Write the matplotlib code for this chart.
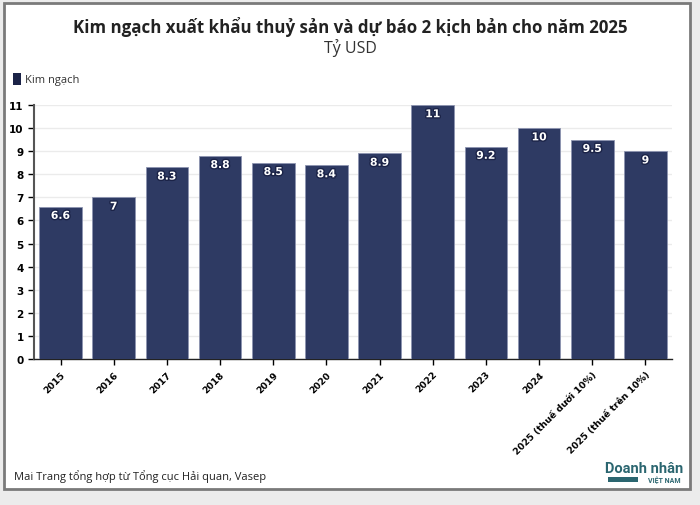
import matplotlib.pyplot as plt
import matplotlib.patheffects as pe
from matplotlib.patches import Rectangle

years = ["2015", "2016", "2017", "2018", "2019", "2020", "2021", "2022",
         "2023", "2024", "2025 (thuế dưới 10%)", "2025 (thuế trên 10%)"]
values = [6.6, 7, 8.3, 8.8, 8.5, 8.4, 8.9, 11, 9.2, 10, 9.5, 9]
labels = ["6.6", "7", "8.3", "8.8", "8.5", "8.4", "8.9", "11", "9.2", "10", "9.5", "9"]

bar_color = "#2e3a63"
W, H = 700, 506

fig = plt.figure(figsize=(7, 5.06), dpi=100, facecolor="#ececec")

# white card with grey border
fig.patches.append(Rectangle((4 / W, 1 - 490 / H), 686 / W, 486 / H,
                             transform=fig.transFigure, facecolor="white",
                             edgecolor="#7a7a7a", linewidth=2, zorder=-5))

ax = fig.add_axes([34 / W, 1 - 360 / H, 638 / W, 254 / H])
ax.set_facecolor("white")

x = range(len(years))
ax.bar(x, values, width=0.8, color=bar_color, edgecolor="#8d94b0",
       linewidth=0.6, zorder=3)

for i, (v, t) in enumerate(zip(values, labels)):
    ax.text(i, v - 0.4, t, ha="center", va="center", color="white",
            fontsize=7.8, fontweight="bold", family="DejaVu Sans", zorder=4,
            path_effects=[pe.withStroke(linewidth=2, foreground="#1b2347")])

ax.set_xlim(-0.5, len(years) - 0.5)
ax.set_ylim(0, 11)
ax.set_yticks(range(0, 12))
ax.set_xticks(list(x))
ax.set_xticklabels(years, rotation=45, ha="right", rotation_mode="anchor")
ax.tick_params(axis="y", labelsize=7.5, colors="black", length=4, width=1)
ax.tick_params(axis="x", labelsize=6.7, colors="black", length=4, width=1)
for lab in ax.get_xticklabels() + ax.get_yticklabels():
    lab.set_fontweight("bold")
ax.grid(axis="y", color="#ebebeb", linewidth=1, zorder=0)
for s in ["top", "right"]:
    ax.spines[s].set_visible(False)
ax.spines["left"].set_color("#555555")
ax.spines["left"].set_linewidth(1.5)
ax.spines["bottom"].set_color("#222222")
ax.spines["bottom"].set_linewidth(1)

fig.text(0.5, 1 - 27 / H, "Kim ngạch xuất khẩu thuỷ sản và dự báo 2 kịch bản cho năm 2025",
         ha="center", va="center", fontsize=12.2, fontweight="bold",
         family="Open Sans", color="#222222")
fig.text(0.5, 1 - 48 / H, "Tỷ USD", ha="center", va="center", fontsize=11.5,
         family="Open Sans", color="#333333")

# legend
fig.patches.append(Rectangle((13 / W, 1 - 86 / H), 8 / W, 12 / H,
                             transform=fig.transFigure, facecolor="#1b2347",
                             edgecolor="none"))
fig.text(25 / W, 1 - 80 / H, "Kim ngạch", ha="left", va="center", fontsize=8,
         family="Open Sans", color="#333333")

fig.text(14 / W, 1 - 477 / H, "Mai Trang tổng hợp từ Tổng cục Hải quan, Vasep",
         ha="left", va="center", fontsize=8, family="Open Sans", color="#222222")

# logo
fig.text(644 / W, 1 - 469 / H, "Doanh nhân", ha="center", va="center",
         fontsize=10.5, fontweight="bold", family="Roboto", color="#2b6670")
fig.patches.append(Rectangle((608 / W, 1 - 483 / H), 30 / W, 5 / H,
                             transform=fig.transFigure, facecolor="#2b6670",
                             edgecolor="none"))
fig.text(664 / W, 1 - 481 / H, "VIỆT NAM", ha="center", va="center",
         fontsize=5, fontweight="bold", family="Roboto", color="#2b6670")

fig.savefig("out.png", dpi=100, facecolor=fig.get_facecolor())
